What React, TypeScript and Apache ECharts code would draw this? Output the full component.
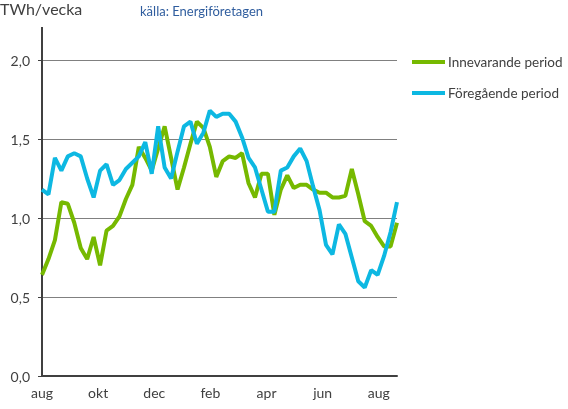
import React, { useEffect, useRef } from "react";
import * as echarts from "echarts";

const monthLabels = ["aug", "okt", "dec", "feb", "apr", "jun", "aug"];
const seriesNames = ["Innevarande period", "Föregående period"];

const innevarande = [
  0.64, 0.74, 0.86, 1.10, 1.09, 0.97, 0.81, 0.74, 0.88, 0.70,
  0.92, 0.95, 1.01, 1.12, 1.21, 1.45, 1.38, 1.30, 1.44, 1.58,
  1.38, 1.18, 1.32, 1.47, 1.61, 1.57, 1.45, 1.26, 1.36, 1.39,
  1.38, 1.41, 1.22, 1.13, 1.28, 1.28, 1.02, 1.18, 1.27, 1.19,
  1.21, 1.21, 1.18, 1.16, 1.16, 1.13, 1.13, 1.14, 1.31, 1.15,
  0.98, 0.95, 0.88, 0.82, 0.82, 0.97,
];

const foregaende = [
  1.18, 1.15, 1.38, 1.30, 1.39, 1.41, 1.39, 1.25, 1.13, 1.30,
  1.34, 1.21, 1.24, 1.31, 1.35, 1.39, 1.48, 1.28, 1.58, 1.32,
  1.25, 1.42, 1.58, 1.61, 1.47, 1.54, 1.68, 1.64, 1.66, 1.66,
  1.61, 1.51, 1.38, 1.32, 1.18, 1.04, 1.04, 1.30, 1.32, 1.39,
  1.44, 1.36, 1.20, 1.05, 0.83, 0.77, 0.96, 0.90, 0.75, 0.60,
  0.56, 0.67, 0.64, 0.76, 0.91, 1.10,
];

const WEEKS_PER_TWO_MONTHS = 52.18 / 6;
const FONT = "Lato, 'Noto Sans', sans-serif";

export default function App() {
  const ref = useRef<HTMLDivElement>(null);
  useEffect(() => {
    if (!ref.current) return;
    const chart = echarts.init(ref.current, null, { renderer: "svg" });
    const toPairs = (arr: number[]) => arr.map((v, i) => [i, v]);
    chart.setOption({
      animation: false,
      textStyle: { fontFamily: FONT },
      grid: { left: 42, right: 171, top: 60, bottom: 33 },
      graphic: [
        {
          type: "line",
          shape: { x1: 42, y1: 27, x2: 42, y2: 60 },
          style: { stroke: "#404040", lineWidth: 2 },
        },
        {
          type: "text",
          left: 0,
          top: 0,
          style: { text: "TWh/vecka", font: `16px ${FONT}`, fill: "#404040" },
        },
        {
          type: "text",
          left: 140,
          top: 4,
          style: { text: "källa: Energiföretagen", font: `13px ${FONT}`, fill: "#2F5D9E" },
        },
      ],
      legend: {
        orient: "vertical",
        left: 407,
        top: 50,
        itemWidth: 33,
        itemHeight: 4,
        itemGap: 17,
        icon: "rect",
        textStyle: { fontSize: 13.5, color: "#404040", fontFamily: FONT, padding: [0, 0, 0, -2] },
        data: seriesNames,
      },
      xAxis: {
        type: "value",
        min: 0,
        max: innevarande.length - 1,
        interval: WEEKS_PER_TWO_MONTHS,
        axisLine: { show: true, lineStyle: { color: "#404040", width: 2 } },
        axisTick: { show: false },
        splitLine: { show: false },
        axisLabel: {
          color: "#404040",
          fontSize: 14,
          fontFamily: FONT,
          margin: 9,
          showMaxLabel: false,
          formatter: (v: number) => {
            const idx = Math.round(v / WEEKS_PER_TWO_MONTHS);
            if (Math.abs(v - idx * WEEKS_PER_TWO_MONTHS) > 0.01) return "";
            return monthLabels[idx] ?? "";
          },
        },
      },
      yAxis: {
        type: "value",
        min: 0,
        max: 2,
        interval: 0.5,
        axisLine: { show: true, lineStyle: { color: "#404040", width: 2 } },
        axisTick: { show: true, length: 4, lineStyle: { color: "#404040", width: 1 } },
        splitLine: { show: true, lineStyle: { color: "#808080", width: 1 } },
        axisLabel: {
          color: "#404040",
          fontSize: 14,
          fontFamily: FONT,
          margin: 12,
          formatter: (v: number) => v.toFixed(1).replace(".", ","),
        },
      },
      series: [
        {
          name: seriesNames[0],
          type: "line",
          data: toPairs(innevarande),
          showSymbol: false,
          symbol: "none",
          lineStyle: { color: "#76B900", width: 4 },
          itemStyle: { color: "#76B900" },
          z: 3,
        },
        {
          name: seriesNames[1],
          type: "line",
          data: toPairs(foregaende),
          showSymbol: false,
          symbol: "none",
          lineStyle: { color: "#0DB8E2", width: 4 },
          itemStyle: { color: "#0DB8E2" },
          z: 4,
        },
      ],
    });
    return () => chart.dispose();
  }, []);
  return (
    <div
      ref={ref}
      style={{ position: "fixed", left: 0, top: 0, width: 568, height: 409 }}
    />
  );
}
